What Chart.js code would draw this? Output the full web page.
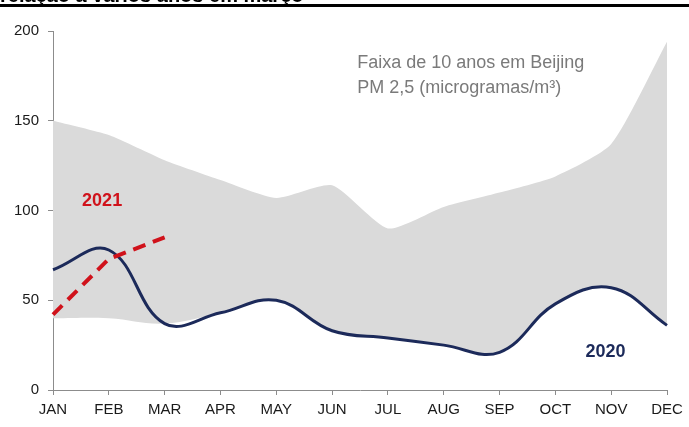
<!DOCTYPE html>
<html>
<head>
<meta charset="utf-8">
<script src="https://cdn.jsdelivr.net/npm/chart.js@4"></script>
<style>
  body { margin: 0; background: #fff; }
  canvas { display: block; }
</style>
</head>
<body>
<canvas id="js--chart" width="689" height="427"></canvas>
<script>
/* data */
const months = ["JAN", "FEB", "MAR", "APR", "MAY", "JUN", "JUL", "AUG", "SEP", "OCT", "NOV", "DEC"];
const bandHigh = [150, 142, 128, 117, 107, 114, 90, 102, 110, 119, 137, 194];
const bandLow = [40, 40, 37, 43, 50, 33, 29, 25, 21, 48, 57, 36];
const pm2020 = [67, 78, 37, 43, 50, 33, 29, 25, 21, 48, 57, 36];
const pm2021 = [42, 73, 85];
const yTicks = [0, 50, 100, 150, 200];

const titleText = "relação a vários anos em março";
const noteLines = ["Faixa de 10 anos em Beijing", "PM 2,5 (microgramas/m³)"];

// teksten op het plaatje, in data-coordinaten
const labels = [
    { text: "2021", x: 0.88, y: 105, color: "#d0121b", font: "bold 18px 'Liberation Sans', Arial" },
    { text: "2020", x: 9.9, y: 21, color: "#1c2a5a", font: "bold 18px 'Liberation Sans', Arial" }
];

const axisGray = "#8c8c8c";
const tickFont = { family: "'Liberation Sans', Arial", size: 15 };

const extras = {
    id: "extras",
    afterDraw(chart) {
        const ctx = chart.ctx;
        const xs = chart.scales.x;
        const ys = chart.scales.y;
        ctx.save();

        // afgesneden titel + zwarte lijn bovenaan
        ctx.fillStyle = "#000";
        ctx.font = "bold 20px 'Liberation Sans', Arial";
        ctx.textBaseline = "alphabetic";
        ctx.textAlign = "left";
        ctx.fillText(titleText, 0, 2);
        ctx.fillRect(0, 4, chart.width, 3);

        // labels 2021 / 2020
        ctx.textAlign = "center";
        ctx.textBaseline = "middle";
        labels.forEach(function (l) {
            ctx.fillStyle = l.color;
            ctx.font = l.font;
            ctx.fillText(l.text, xs.getPixelForValue(l.x), ys.getPixelForValue(l.y));
        });

        // uitleg rechtsboven
        ctx.textAlign = "left";
        ctx.fillStyle = "#7a7a7a";
        ctx.font = "18px 'Liberation Sans', Arial";
        ctx.fillText(noteLines[0], xs.getPixelForValue(5.45), ys.getPixelForValue(182));
        ctx.fillText(noteLines[1], xs.getPixelForValue(5.45), ys.getPixelForValue(168));
        ctx.restore();
    }
};

const data = {
    labels: months,
    datasets: [
        {
            label: "2021",
            data: pm2021,
            borderColor: "#d0121b",
            borderWidth: 4,
            borderDash: [13, 8],
            pointRadius: 0,
            tension: 0,
            fill: false,
            order: 0
        },
        {
            label: "2020",
            data: pm2020,
            borderColor: "#1c2a5a",
            borderWidth: 3,
            pointRadius: 0,
            tension: 0.4,
            fill: false,
            order: 1
        },
        {
            label: "max",
            data: bandHigh,
            borderWidth: 0,
            borderColor: "rgba(0,0,0,0)",
            backgroundColor: "#dadada",
            pointRadius: 0,
            tension: 0.2,
            fill: { target: 3, above: "#dadada", below: "#dadada" },
            order: 3
        },
        {
            label: "min",
            data: bandLow,
            borderWidth: 0,
            borderColor: "rgba(0,0,0,0)",
            pointRadius: 0,
            tension: 0.4,
            fill: false,
            order: 2
        }
    ]
};

const config = {
    type: "line",
    data: data,
    plugins: [extras],
    options: {
        responsive: false,
        animation: false,
        layout: { padding: { top: 31, right: 22, left: 0, bottom: 0 } },
        plugins: {
            legend: { display: false },
            tooltip: { enabled: false }
        },
        scales: {
            x: {
                offset: false,
                grid: { drawOnChartArea: false, tickLength: 5, color: axisGray },
                border: { color: axisGray },
                ticks: { color: "#1a1a1a", font: tickFont, padding: 6, maxRotation: 0, autoSkip: false },
                afterFit: function (s) { s.height = 37; }
            },
            y: {
                min: 0,
                max: 200,
                grid: { drawOnChartArea: false, tickLength: 5, color: axisGray },
                border: { color: axisGray },
                ticks: { color: "#1a1a1a", font: tickFont, padding: 9 },
                afterBuildTicks: function (s) { s.ticks = yTicks.map(v => ({ value: v })); },
                afterFit: function (s) { s.width = 53; }
            }
        }
    }
};

new Chart(document.getElementById("js--chart"), config);
</script>
</body>
</html>
